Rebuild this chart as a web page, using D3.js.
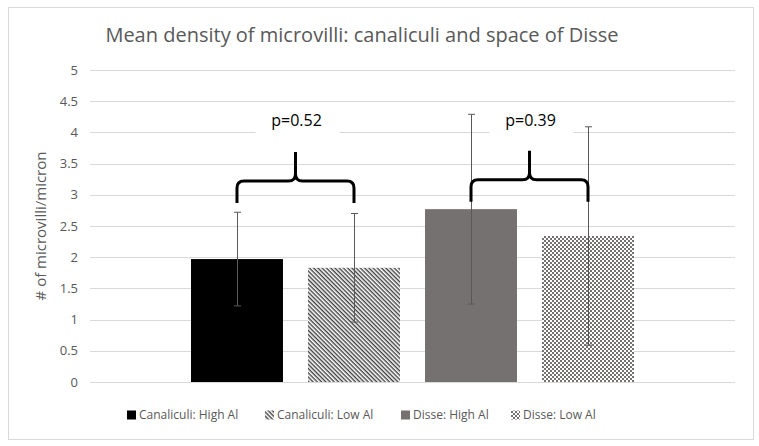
<!DOCTYPE html>
<html>
<head>
<meta charset="utf-8">
<script src="https://cdn.jsdelivr.net/npm/d3@7"></script>
<style>
  body { margin: 0; background: #fff; }
  text { font-family: "Open Sans", "Noto Sans", sans-serif; }
</style>
</head>
<body>
<div id="chart"></div>
<script>
const width = 759, height = 446;

// data
const seriesNames = ["Canaliculi: High Al", "Canaliculi: Low Al", "Disse: High Al", "Disse: Low Al"];
const means = [1.97, 1.83, 2.77, 2.34];
const errors = [0.75, 0.87, 1.52, 1.75];
const yTicks = [0, 0.5, 1, 1.5, 2, 2.5, 3, 3.5, 4, 4.5, 5];
const comparisons = [
  { from: 0, to: 1, label: "p=0.52", level: 3.22 },
  { from: 2, to: 3, label: "p=0.39", level: 3.24 }
];

const margin = { top: 70, right: 24, bottom: 64, left: 90 };

const svg = d3.select("#chart").append("svg")
  .attr("width", width)
  .attr("height", height);

// fill patterns
const defs = svg.append("defs");
const stripe = defs.append("pattern")
  .attr("id", "stripes")
  .attr("patternUnits", "userSpaceOnUse")
  .attr("width", 3).attr("height", 3)
  .attr("patternTransform", "rotate(45)");
stripe.append("rect").attr("width", 3).attr("height", 3).attr("fill", "#fff");
stripe.append("rect").attr("width", 3).attr("height", 1.4).attr("fill", "#404040");

const checker = defs.append("pattern")
  .attr("id", "checker")
  .attr("patternUnits", "userSpaceOnUse")
  .attr("width", 4).attr("height", 4);
checker.append("rect").attr("width", 4).attr("height", 4).attr("fill", "#fff");
checker.append("rect").attr("width", 2).attr("height", 2).attr("fill", "#767171");
checker.append("rect").attr("x", 2).attr("y", 2).attr("width", 2).attr("height", 2).attr("fill", "#767171");

const fills = ["#000000", "url(#stripes)", "#767171", "url(#checker)"];

// chart frame
svg.append("rect")
  .attr("x", 8.5).attr("y", 7.5)
  .attr("width", 745).attr("height", 432)
  .attr("fill", "#fff")
  .attr("stroke", "#d9d9d9");

const x = d3.scaleBand()
  .domain(d3.range(seriesNames.length))
  .range([191, 634])
  .paddingInner(0.214)
  .paddingOuter(0);

const y = d3.scaleLinear()
  .domain([0, 5])
  .range([382, margin.top]);

// grid lines
svg.append("g")
  .selectAll("line")
  .data(yTicks)
  .join("line")
  .attr("x1", margin.left)
  .attr("x2", width - margin.right)
  .attr("y1", d => Math.round(y(d)) + 0.5)
  .attr("y2", d => Math.round(y(d)) + 0.5)
  .attr("stroke", "#d9d9d9")
  .attr("stroke-width", 1);

// y axis labels
const yAxis = svg.append("g")
  .attr("transform", `translate(${margin.left - 12},0)`)
  .call(d3.axisLeft(y).tickValues(yTicks).tickSize(0).tickFormat(d3.format("")));
yAxis.select(".domain").remove();
yAxis.selectAll("text")
  .attr("fill", "#595959")
  .style("font-size", "13px")
  .attr("x", 0);

svg.append("text")
  .attr("transform", `translate(46,${(y(0) + y(5)) / 2}) rotate(-90)`)
  .attr("text-anchor", "middle")
  .attr("fill", "#595959")
  .style("font-size", "15px")
  .text("# of microvilli/micron");

// bars
svg.append("g")
  .selectAll("rect")
  .data(means)
  .join("rect")
  .attr("x", (d, i) => x(i))
  .attr("width", x.bandwidth())
  .attr("y", d => y(d))
  .attr("height", d => y(0) - y(d))
  .attr("fill", (d, i) => fills[i]);

// error bars
const err = svg.append("g")
  .attr("stroke", "#595959")
  .attr("stroke-width", 1);
means.forEach((m, i) => {
  const cx = Math.round(x(i) + x.bandwidth() / 2) + 0.5;
  err.append("line")
    .attr("x1", cx).attr("x2", cx)
    .attr("y1", y(m + errors[i])).attr("y2", y(m - errors[i]));
  [m + errors[i], m - errors[i]].forEach(v => {
    err.append("line")
      .attr("x1", cx - 3.5).attr("x2", cx + 3.5)
      .attr("y1", y(v)).attr("y2", y(v));
  });
});

// curly braces with p-values
comparisons.forEach(c => {
  const x0 = x(c.from) + x.bandwidth() / 2;
  const x1 = x(c.to) + x.bandwidth() / 2;
  const xm = (x0 + x1) / 2;
  const yl = y(c.level);
  const yEnd = yl + 22, yTip = yl - 29, r = 7;
  const path = d3.path();
  path.moveTo(x0, yEnd);
  path.lineTo(x0, yl + r);
  path.quadraticCurveTo(x0, yl, x0 + r, yl);
  path.lineTo(xm - r, yl);
  path.quadraticCurveTo(xm, yl, xm, yl - r);
  path.lineTo(xm, yTip);
  path.moveTo(xm, yl - r);
  path.quadraticCurveTo(xm, yl, xm + r, yl);
  path.lineTo(x1 - r, yl);
  path.quadraticCurveTo(x1, yl, x1, yl + r);
  path.lineTo(x1, yEnd);
  svg.append("path")
    .attr("d", path.toString())
    .attr("fill", "none")
    .attr("stroke", "#000")
    .attr("stroke-width", 3);

  svg.append("rect")
    .attr("x", xm - 40).attr("y", y(4) - 4)
    .attr("width", 84).attr("height", 8)
    .attr("fill", "#fff");
  svg.append("text")
    .attr("x", xm + 1)
    .attr("y", y(4.1))
    .attr("text-anchor", "middle")
    .attr("fill", "#000")
    .style("font-size", "16px")
    .text(c.label);
});

// title
svg.append("text")
  .attr("x", 362)
  .attr("y", 42)
  .attr("text-anchor", "middle")
  .attr("fill", "#595959")
  .style("font-size", "20px")
  .text("Mean density of microvilli: canaliculi and space of Disse");

// legend
const legendX = [127, 265, 401, 511];
const legend = svg.append("g");
seriesNames.forEach((name, i) => {
  const g = legend.append("g").attr("transform", `translate(${legendX[i]},415)`);
  g.append("rect")
    .attr("x", 0).attr("y", -4.5)
    .attr("width", 9).attr("height", 9)
    .attr("fill", fills[i]);
  g.append("text")
    .attr("x", 12)
    .attr("y", 0)
    .attr("dy", "0.35em")
    .attr("fill", "#595959")
    .style("font-size", "12px")
    .text(name);
});
</script>
</body>
</html>
